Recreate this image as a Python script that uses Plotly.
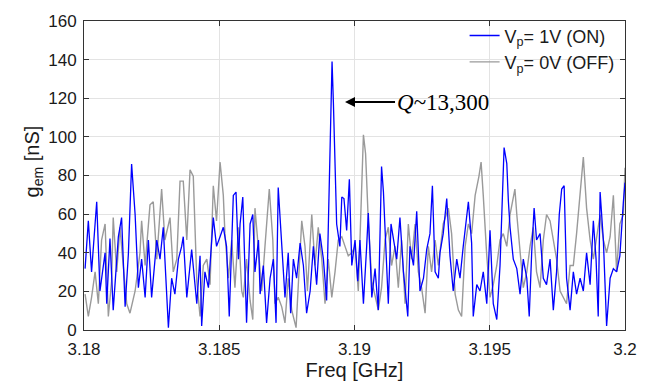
import plotly.graph_objects as go

# ---- data ----
on_freq = [3.18004, 3.18016, 3.18028, 3.18034, 3.18047, 3.18059, 3.18078, 3.18084, 3.18096, 3.18108,
           3.18121, 3.18127, 3.18139, 3.18152, 3.18164, 3.18176, 3.18189, 3.18201, 3.18213, 3.18226,
           3.18238, 3.18250, 3.18269, 3.18281, 3.18293, 3.18306, 3.18312, 3.18324, 3.18336, 3.18349,
           3.18361, 3.18367, 3.18380, 3.18398, 3.18417, 3.18429, 3.18435, 3.18447, 3.18460, 3.18478,
           3.18490, 3.18503,
           3.18515, 3.18527, 3.18537, 3.18552, 3.18562, 3.18571, 3.18577, 3.18587, 3.18595, 3.18601,
           3.18614, 3.18624, 3.18632, 3.18645, 3.18651, 3.18663, 3.18675, 3.18688, 3.18700, 3.18710,
           3.18718, 3.18731, 3.18743, 3.18755, 3.18764, 3.18774, 3.18786, 3.18799, 3.18811, 3.18823,
           3.18836, 3.18848, 3.18860, 3.18872, 3.18885, 3.18897, 3.18903, 3.18909, 3.18917, 3.18922,
           3.18928, 3.18934, 3.18946, 3.18953, 3.18961, 3.18971, 3.18981, 3.18990, 3.19002,
           3.19012, 3.19020, 3.19033, 3.19045, 3.19051, 3.19064, 3.19076, 3.19088, 3.19100, 3.19107,
           3.19115, 3.19125, 3.19135, 3.19144, 3.19156, 3.19168, 3.19181, 3.19197, 3.19205, 3.19218,
           3.19230, 3.19242, 3.19255, 3.19267, 3.19279, 3.19288, 3.19298, 3.19310, 3.19316, 3.19328,
           3.19341, 3.19353, 3.19365, 3.19378, 3.19390, 3.19402, 3.19421, 3.19433, 3.19439, 3.19452,
           3.19464, 3.19476, 3.19489, 3.19501,
           3.19513, 3.19526, 3.19538, 3.19553, 3.19563, 3.19569, 3.19575, 3.19587, 3.19600, 3.19612,
           3.19624, 3.19637, 3.19646, 3.19655, 3.19664, 3.19673, 3.19686, 3.19698, 3.19710, 3.19723,
           3.19735, 3.19747, 3.19757, 3.19766, 3.19775, 3.19784, 3.19797, 3.19809, 3.19821, 3.19834,
           3.19846, 3.19858, 3.19871, 3.19883, 3.19893, 3.19901, 3.19908, 3.19920, 3.19932, 3.19945,
           3.19957, 3.19969, 3.19981, 3.19994, 3.20000]
on_gem = [31.8, 56.5, 30.1, 41.7, 66.4, 20.2, 40.0, 13.6, 47.4, 10.3,
          38.4, 48.3, 58.2, 12.0, 39.2, 85.9, 59.8, 21.9, 36.7, 16.9,
          46.6, 16.9, 46.6, 36.7, 53.2, 20.2, 1.2, 26.8, 18.6, 36.7,
          43.3, 48.3, 16.9, 41.7, 13.6, 38.4, 2.1, 30.1, 21.9, 58.2,
          43.3, 48.3,
          53.2, 43.3, 7.0, 69.7, 71.4, 36.7, 54.9, 68.9, 30.1, 3.7,
          54.9, 59.8, 30.1, 46.6, 18.6, 33.4, 3.7, 26.8, 36.7, 3.7,
          73.8, 46.6, 16.9, 40.0, 8.7, 36.7, 26.8, 45.0, 33.4, 8.7,
          20.2, 43.3, 23.5, 49.9, 36.7, 15.3, 54.9, 99.4, 139.0, 117.6,
          79.6, 54.9, 43.3, 68.9, 68.1, 51.6, 78.0, 33.4, 46.6,
          25.2, 46.6, 13.6, 43.3, 60.6, 16.9, 31.8, 10.3, 84.6, 71.4,
          46.6, 13.6, 54.9, 46.6, 36.7, 58.2, 30.1, 7.0, 43.3, 33.4,
          61.5, 20.2, 26.8, 41.7, 49.9, 74.7, 30.1, 26.8, 40.0, 49.9,
          68.1, 38.4, 20.2, 36.7, 26.8, 43.3, 66.4, 45.0, 7.0, 23.5,
          20.2, 30.1, 13.6, 51.6,
          13.6, 5.4, 33.4, 94.5, 86.2, 66.4, 53.2, 36.7, 31.8, 18.6,
          36.7, 26.8, 7.0, 40.0, 63.1, 46.6, 49.9, 26.8, 23.5, 36.7,
          10.3, 30.1, 59.8, 73.0, 74.7, 26.8, 10.3, 30.1, 18.6, 26.8,
          20.2, 40.0, 23.5, 56.5, 36.7, 7.0, 71.4, 46.6, 2.1, 26.8,
          31.8, 30.1, 38.4, 66.4, 76.3]

off_freq = [3.18004, 3.18016, 3.18028, 3.18041, 3.18053, 3.18065, 3.18078, 3.18090, 3.18102, 3.18108,
            3.18121, 3.18133, 3.18145, 3.18158, 3.18170, 3.18189, 3.18207, 3.18213, 3.18226, 3.18244,
            3.18256, 3.18269, 3.18287, 3.18299, 3.18318, 3.18330, 3.18343, 3.18355, 3.18367, 3.18380,
            3.18392, 3.18404, 3.18417, 3.18429, 3.18441, 3.18454, 3.18466, 3.18478, 3.18490, 3.18503,
            3.18515, 3.18521, 3.18534, 3.18546, 3.18558, 3.18571, 3.18583, 3.18589, 3.18601, 3.18614,
            3.18624, 3.18632, 3.18645, 3.18657, 3.18669, 3.18685, 3.18698, 3.18706, 3.18718, 3.18731,
            3.18743, 3.18755, 3.18768, 3.18784, 3.18796, 3.18805, 3.18817, 3.18826, 3.18842, 3.18854,
            3.18866, 3.18879, 3.18891, 3.18903, 3.18916, 3.18928, 3.18940, 3.18953, 3.18965, 3.18977,
            3.18990, 3.19002,
            3.19014, 3.19027, 3.19033, 3.19041, 3.19051, 3.19064, 3.19076, 3.19088, 3.19100, 3.19113,
            3.19125, 3.19137, 3.19150, 3.19162, 3.19174, 3.19187, 3.19199, 3.19211, 3.19224, 3.19236,
            3.19248, 3.19261, 3.19273, 3.19285, 3.19298, 3.19310, 3.19328, 3.19347, 3.19359, 3.19372,
            3.19384, 3.19396, 3.19409, 3.19421, 3.19433, 3.19446, 3.19460, 3.19468, 3.19476, 3.19489,
            3.19501,
            3.19513, 3.19526, 3.19538, 3.19550, 3.19563, 3.19575, 3.19587, 3.19593, 3.19600, 3.19612,
            3.19624, 3.19637, 3.19649, 3.19661, 3.19673, 3.19686, 3.19698, 3.19710, 3.19723, 3.19735,
            3.19747, 3.19760, 3.19772, 3.19784, 3.19797, 3.19809, 3.19821, 3.19834, 3.19846, 3.19858,
            3.19871, 3.19883, 3.19895, 3.19908, 3.19920, 3.19932, 3.19945, 3.19957, 3.19969, 3.19981,
            3.19994, 3.20000]
off_gem = [18.6, 7.0, 16.9, 30.1, 13.6, 46.6, 54.9, 7.0, 25.2, 58.2,
           30.1, 53.2, 33.4, 13.6, 8.7, 20.2, 40.0, 56.5, 33.4, 64.8,
           66.4, 36.7, 73.0, 46.6, 58.2, 30.1, 36.7, 77.1, 77.1, 46.6,
           82.9, 79.6, 25.2, 7.0, 33.4, 36.7, 23.5, 74.7, 56.5, 87.0,
           69.7, 49.9, 26.8, 46.6, 21.9, 53.2, 20.2, 16.9, 36.7, 15.3,
           5.4, 63.1, 41.7, 20.2, 43.3, 73.0, 46.6, 13.6, 16.9, 12.0,
           3.7, 26.8, 10.3, 1.2, 33.4, 56.5, 43.3, 20.2, 59.8, 33.4,
           53.2, 36.7, 13.6, 36.7, 16.9, 30.1, 46.6, 48.3, 43.3, 38.4,
           40.0, 43.3,
           20.2, 74.7, 101.1, 91.2, 56.5, 25.2, 16.9, 10.3, 21.9, 46.6,
           53.2, 33.4, 43.3, 21.9, 46.6, 13.6, 54.9, 36.7, 54.9, 30.1,
           21.9, 8.7, 43.3, 30.1, 46.6, 33.4, 54.9, 63.1, 49.9, 18.6,
           10.3, 7.0, 43.3, 54.9, 49.9, 69.7, 79.6, 87.0, 69.7, 38.4,
           16.9,
           23.5, 33.4, 46.6, 49.9, 43.3, 59.8, 69.7, 73.0, 59.8, 40.0,
           21.9, 30.1, 43.3, 53.2, 30.1, 21.9, 46.6, 59.8, 56.5, 46.6,
           36.7, 20.2, 16.9, 13.6, 33.4, 33.4, 49.9, 73.0, 89.5, 63.1,
           46.6, 36.7, 48.3, 59.8, 46.6, 40.0, 48.3, 69.7, 30.1, 54.9,
           59.8, 84.0]

x_tickvals = [3.18, 3.185, 3.19, 3.195, 3.2]
x_ticktext = ["3.18", "3.185", "3.19", "3.195", "3.2"]
y_tickvals = [0, 20, 40, 60, 80, 100, 120, 140, 160]

peak_freq = 3.18965
peak_label_y = 118.0

fig = go.Figure()
fig.add_trace(go.Scatter(x=off_freq, y=off_gem, mode="lines",
                         line=dict(color="#9a9a9a", width=1.4),
                         name="V<sub>p</sub>= 0V (OFF)"))
fig.add_trace(go.Scatter(x=on_freq, y=on_gem, mode="lines",
                         line=dict(color="#0000ff", width=1.3),
                         name="V<sub>p</sub>= 1V (ON)"))

fig.add_annotation(x=peak_freq, y=peak_label_y, xref="x", yref="y",
                   text="<i>Q</i>~13,300", showarrow=True, ax=50, ay=0,
                   xanchor="left", arrowhead=2, arrowsize=1, arrowwidth=2,
                   arrowcolor="black",
                   font=dict(family="Liberation Serif", size=23, color="black"))

fig.add_annotation(text="g<sub>em</sub> [nS]", xref="paper", yref="paper",
                   x=-0.094, y=0.546, xanchor="center", yanchor="middle",
                   textangle=-90, showarrow=False,
                   font=dict(family="Liberation Sans", size=20, color="#1a1a1a"))

axis_common = dict(showline=True, linecolor="#333333", linewidth=1, mirror="ticks",
                   ticks="inside", ticklen=5, tickcolor="#333333",
                   showgrid=True, gridcolor="#e3e3e3", gridwidth=1, zeroline=False,
                   tickfont=dict(family="Liberation Sans", size=17, color="#1a1a1a"))

fig.update_xaxes(range=[3.18, 3.2], tickvals=x_tickvals, ticktext=x_ticktext,
                 ticklabelstandoff=4,
                 title=dict(text="Freq [GHz]", standoff=2,
                            font=dict(family="Liberation Sans", size=20, color="#1a1a1a")),
                 **axis_common)
fig.update_yaxes(range=[0, 160], tickvals=y_tickvals, ticklabelstandoff=3, **axis_common)

fig.update_layout(width=651, height=387, margin=dict(l=84, r=26, t=14, b=50),
                  plot_bgcolor="white", paper_bgcolor="white",
                  showlegend=True,
                  legend=dict(x=0.99, y=1.012, xanchor="right", yanchor="top",
                              bgcolor="rgba(0,0,0,0)", traceorder="reversed",
                              font=dict(family="Liberation Sans", size=18, color="#1a1a1a"),
                              itemwidth=30, tracegroupgap=0))

fig.write_html("out.html")
